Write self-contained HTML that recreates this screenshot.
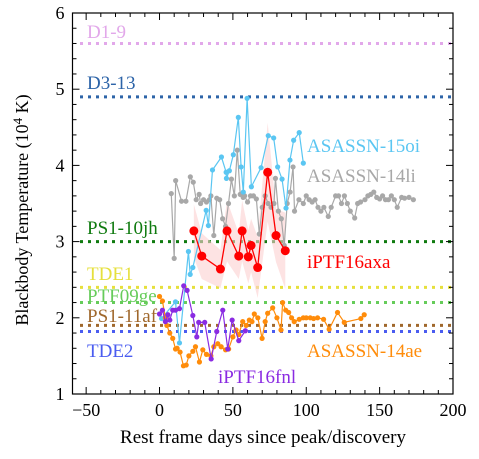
<!DOCTYPE html>
<html><head><meta charset="utf-8"><style>
body{margin:0;background:#fff;}
svg{display:block;font-family:"Liberation Serif",serif;}
</style></head><body>
<svg id="c" width="479" height="459"></svg>
<script>
const xTicks=[-50,0,50,100,150,200];
const yTicks=[1,2,3,4,5,6];
const refNames=["D1-9","D3-13","PS1-10jh","TDE1","PTF09ge","PS1-11af","TDE2"];
const refTemps=[5.6,4.9,3.0,2.4,2.2,1.9,1.82];
const asassn15oi=[[1.4,1.99],[10.9,2.21],[13.6,1.67],[19.7,2.87],[20.9,2.57],[22.7,2.66],[31.8,3.41],[33.3,3.21],[36.1,3.94],[42.2,4.11],[45.4,3.91],[45.6,3.83],[47.6,3.93],[50.3,4.14],[53.7,4.63],[55.6,3.98],[57.1,3.65],[59.7,4.88],[62.6,3.72],[69.2,3.97],[74.1,4.39],[77.8,4.36],[80.5,3.98],[83.5,3.82],[86.2,3.44],[88.9,4.07],[91.4,4.33],[95.2,4.43],[98,4.03]];
const asassn14li=[[8,3.63],[10,2.78],[11,3.8],[15,3.53],[18,3.53],[21,3.85],[23,3.78],[25,3.55],[27,3.62],[28,3.5],[30,3.55],[32,3.52],[34,3.55],[35,3.6],[37,3.08],[39,3.57],[41,3.55],[43,3.3],[45,3.2],[47,3.5],[49,3.82],[51,3.6],[53,4.2],[55,3.62],[57,3.58],[58,3.6],[60,3.52],[62,3.6],[64,3.6],[66,3.56],[68,3.1],[70,3.45],[72,3.6],[74,3.5],[76,3.45],[78,3.5],[79,3.83],[81,3.4],[83,3.3],[85,2.95],[87,3.5],[89,3.65],[91,3.98],[92,3.4],[95,3.55],[98,3.5],[100,3.6],[102,3.55],[104,3.52],[106,3.55],[108,3.45],[110,3.4],[112,3.45],[115,3.33],[117,3.45],[120,3.6],[122,3.6],[124,3.5],[126,3.6],[128,3.5],[130,3.4],[133,3.31],[135,3.5],[137,3.52],[140,3.55],[142,3.6],[144,3.62],[146,3.65],[148,3.58],[150,3.56],[152,3.6],[154,3.55],[156,3.55],[158,3.6],[160,3.55],[162,3.45],[165,3.58],[167,3.57],[170,3.58],[173,3.55]];
const iptf16axaDays=[23.4,28.8,41.5,46,54,56.3,60.5,62.4,66.9,73.7,79.4,85.7];
const iptf16axaTemps=[3.14,2.81,2.64,3.14,2.81,3.14,2.8,2.95,2.66,3.91,3.08,2.88];
const iptf16axaErr=[0.35,0.3,0.25,0.4,0.3,0.4,0.35,0.35,0.4,0.65,0.35,0.5];
const iptf16fnl=[[0,2.05],[2,2.1],[4,1.95],[5.7,2.04],[7,1.97],[9,2.1],[10.9,2.1],[13.6,2.12],[16.5,2.42],[18.8,2.36],[22.7,2.03],[25.4,1.75],[26.7,1.94],[30.8,1.94],[35.2,1.46],[39,1.82],[43.1,2.1],[46.5,1.59],[49.5,1.97],[54,1.7],[58.5,1.83]];
const asassn14ae=[[0,2.28],[2,2.22],[4,2.0],[5,1.9],[7,1.8],[9,1.73],[10.9,1.59],[12,1.6],[14,1.55],[16.3,1.37],[18.2,1.38],[20,1.5],[22.7,1.56],[24.5,1.62],[27.2,1.42],[29.5,1.58],[32,1.52],[35,1.5],[37,1.62],[39.7,1.66],[42,1.62],[45,1.58],[47.1,1.59],[50,1.75],[52.2,1.84],[54,1.78],[56.7,1.95],[59,1.9],[61.2,1.97],[63,1.95],[64.6,2.05],[67,2.0],[69.9,1.73],[72,1.95],[73.7,2.06],[77.1,2.13],[80,2.0],[82.8,1.84],[83.9,2.2],[86,2.1],[88,2.07],[90,2.0],[91.8,1.95],[95.2,1.98],[98,2.0],[100,2.0],[102.7,2.0],[105,1.99],[107.7,2.0],[111.8,1.98],[115.6,1.85],[121.3,2.07],[125.9,1.94],[137.2,1.99],[139.5,2.04]];

const L=72.5,R=453,T=13,B=394,X0=-59.3,X1=200,Y0=1,Y1=6;
const sx=d=>L+(d-X0)/(X1-X0)*(R-L);
const sy=v=>B-(v-Y0)/(Y1-Y0)*(B-T);
const svg=document.getElementById('c');
const NS="http://www.w3.org/2000/svg";
function mk(tag,attrs,parent){const e=document.createElementNS(NS,tag);for(const k in attrs)e.setAttribute(k,attrs[k]);(parent||svg).appendChild(e);return e;}
function txt(s,x,y,attrs){const e=mk('text',Object.assign({x:x,y:y},attrs));e.textContent=s;return e;}

const refColors=["#e2a8ea","#2d64a8","#0f7a0f","#e6e03c","#66cc5a","#a0682c","#4a5cf0"];
const refLabelY=[38,89,234,280,302,322,357];
refNames.forEach((n,i)=>{
  const l=mk('line',{x1:80,x2:R,y1:sy(refTemps[i]),y2:sy(refTemps[i]),stroke:refColors[i],'stroke-width':3,'stroke-dasharray':'3,5'});
  
  
  const t=txt(n,87,refLabelY[i],{fill:refColors[i],'font-size':19});
  
  
});

let up=iptf16axaDays.map((d,i)=>sx(d)+','+sy(iptf16axaTemps[i]+iptf16axaErr[i]));
let dn=iptf16axaDays.map((d,i)=>sx(d)+','+sy(iptf16axaTemps[i]-iptf16axaErr[i])).reverse();
const band=mk('polygon',{points:up.concat(dn).join(' '),fill:'#fbd0d0',opacity:0.6});



function series(pts,color,r,name,sw){
  const g=mk('g',{});
  
  
  mk('polyline',{points:pts.map(p=>sx(p[0])+','+sy(p[1])).join(' '),fill:'none',stroke:color,'stroke-width':sw},g);
  pts.forEach(p=>{const c=mk('circle',{cx:sx(p[0]),cy:sy(p[1]),r:r,fill:color},g);
    
    });
}
series(asassn14li,'#a8a8a8',2.6,'asassn-14li',1.2);
series(asassn15oi,'#5ac6f2',2.6,'asassn-15oi',1.2);
series(asassn14ae,'#ff8c0a',2.6,'asassn-14ae',1.2);
series(iptf16fnl,'#8a2be2',2.6,'iptf16fnl',1.2);
series(iptf16axaDays.map((d,i)=>[d,iptf16axaTemps[i]]),'#ff0000',4.5,'iptf16axa',1.3);

[["ASASSN-15oi",307,152,"#5ac6f2"],["ASASSN-14li",307,182,"#a8a8a8"],["iPTF16axa",307,268,"#ff0000"],["ASASSN-14ae",307,357,"#ff8c0a"],["iPTF16fnl",218,383,"#8a2be2"]].forEach(a=>{
  const t=txt(a[0],a[1],a[2],{fill:a[3],'font-size':19});
  
  
});

const fr=mk('rect',{x:L,y:T,width:R-L,height:B-T,fill:'none',stroke:'#000','stroke-width':1.2});


for(let d=-50;d<=200;d+=10){const maj=d%50===0;const len=maj?7:4;
  mk('line',{x1:sx(d),x2:sx(d),y1:B,y2:B-len,stroke:'#000','stroke-width':1});
  mk('line',{x1:sx(d),x2:sx(d),y1:T,y2:T+len,stroke:'#000','stroke-width':1});}
for(let k=0;k<=25;k++){const v=1+k*0.2;const maj=k%5===0;const len=maj?7:4;
  mk('line',{x1:L,x2:L+len,y1:sy(v),y2:sy(v),stroke:'#000','stroke-width':1});
  mk('line',{x1:R,x2:R-len,y1:sy(v),y2:sy(v),stroke:'#000','stroke-width':1});}
xTicks.forEach(d=>{const t=txt(d<0?'\u2212'+(-d):String(d),sx(d),416,{'font-size':18,'text-anchor':'middle'});
  
  });
yTicks.forEach(v=>{const t=txt(String(v),L-8,sy(v)+6,{'font-size':18,'text-anchor':'end'});
  
  });
const xt=txt('Rest frame days since peak/discovery',263,443,{'font-size':19,'text-anchor':'middle'});


const yt=mk('text',{x:0,y:0,'font-size':18,'text-anchor':'middle',transform:'translate(28,210) rotate(-90)'});
yt.innerHTML='Blackbody Temperature (10<tspan dy="-6" font-size="13">4</tspan><tspan dy="6"> K)</tspan>';


</script>
</body></html>
